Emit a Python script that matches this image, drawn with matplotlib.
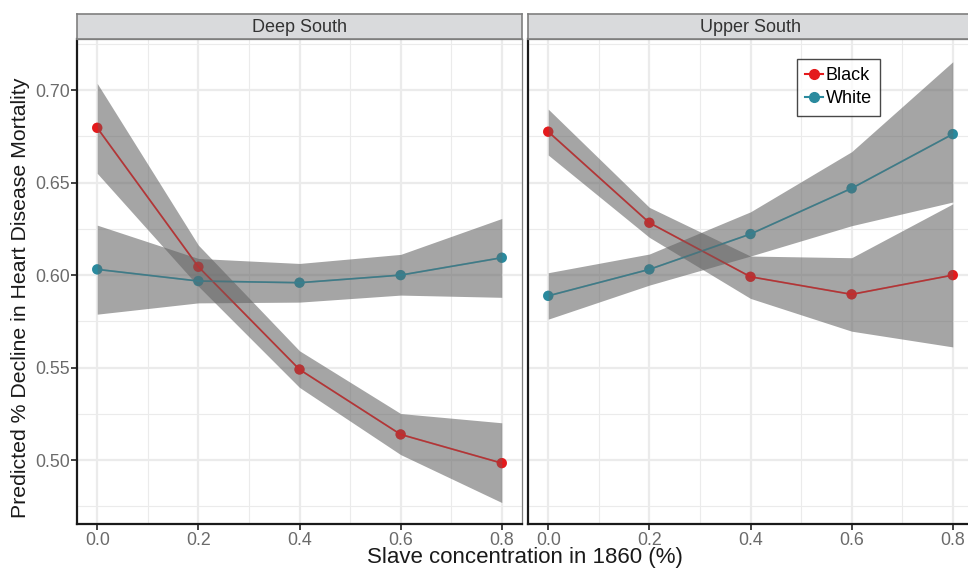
import matplotlib
matplotlib.use("Agg")
import matplotlib.pyplot as plt
from matplotlib.lines import Line2D

plt.rcParams['font.family'] = ['Liberation Sans', 'DejaVu Sans']

x = [0.0, 0.2, 0.4, 0.6, 0.8]
panels = ["Deep South", "Upper South"]

# Deep South
deep_black = [0.6796, 0.6045, 0.549, 0.5139, 0.4984]
deep_black_lo = [0.655, 0.594, 0.5393, 0.503, 0.4771]
deep_black_hi = [0.7036, 0.6162, 0.5591, 0.5252, 0.5202]
deep_white = [0.6031, 0.5968, 0.5959, 0.600, 0.6094]
deep_white_lo = [0.5789, 0.585, 0.5854, 0.5892, 0.588]
deep_white_hi = [0.627, 0.609, 0.6063, 0.6112, 0.6306]

# Upper South
upper_black = [0.6775, 0.6283, 0.5991, 0.5896, 0.600]
upper_black_lo = [0.6649, 0.6204, 0.5874, 0.5697, 0.5612]
upper_black_hi = [0.6897, 0.6366, 0.6103, 0.6094, 0.6385]
upper_white = [0.5888, 0.6031, 0.6222, 0.6469, 0.6762]
upper_white_lo = [0.5762, 0.5946, 0.6103, 0.6267, 0.6395]
upper_white_hi = [0.6013, 0.6114, 0.6342, 0.6667, 0.7153]

series_names = ["Black", "White"]
colors = {"Black": "#E41A1C", "White": "#2A8A9E"}

data = {
    "Deep South": {
        "Black": (deep_black, deep_black_lo, deep_black_hi),
        "White": (deep_white, deep_white_lo, deep_white_hi),
    },
    "Upper South": {
        "Black": (upper_black, upper_black_lo, upper_black_hi),
        "White": (upper_white, upper_white_lo, upper_white_hi),
    },
}

yticks = [0.50, 0.55, 0.60, 0.65, 0.70]
xticks = [0.0, 0.2, 0.4, 0.6, 0.8]

W, H = 968, 570
fig = plt.figure(figsize=(W / 100, H / 100), dpi=100)

panel_left = [77, 528]
panel_w = 445
panel_top = 39
panel_bot = 524
strip_top = 14

grid_col = "#ebebeb"
tick_col = "#6b6b6b"

for i, name in enumerate(panels):
    l = panel_left[i] / W
    b = 1 - panel_bot / H
    w = panel_w / W
    h = (panel_bot - panel_top) / H
    ax = fig.add_axes([l, b, w, h])
    ax.set_xlim(-0.04, 0.84)
    ax.set_ylim(0.4655, 0.7276)
    ax.set_xticks(xticks)
    ax.set_xticks([0.1, 0.3, 0.5, 0.7], minor=True)
    ax.set_yticks(yticks)
    ax.set_yticks([0.475, 0.525, 0.575, 0.625, 0.675, 0.725], minor=True)
    ax.grid(which="major", color=grid_col, linewidth=1.6, zorder=0)
    ax.grid(which="minor", color=grid_col, linewidth=0.8, zorder=0)
    ax.set_axisbelow(True)
    ax.set_xticklabels(["%.1f" % v for v in xticks], color=tick_col, fontsize=12.8)
    if i == 0:
        ax.set_yticklabels(["%.2f" % v for v in yticks], color=tick_col, fontsize=12.8)
        ax.tick_params(axis="y", which="major", length=4, width=1.2, color="#222222", pad=1)
    else:
        ax.set_yticklabels([])
        ax.tick_params(axis="y", which="major", length=0)
    ax.tick_params(axis="x", which="major", length=4, width=1.2, color="#222222", pad=2)
    ax.tick_params(which="minor", length=0)
    for side in ["left", "bottom"]:
        ax.spines[side].set_color("#1a1a1a")
        ax.spines[side].set_linewidth(1.6)
    for side in ["right", "top"]:
        ax.spines[side].set_color("#7f7f7f")
        ax.spines[side].set_linewidth(0.9)

    for s in series_names:
        y, lo, hi = data[name][s]
        ax.plot(x, y, color=colors[s], linewidth=1.2, zorder=2)
        ax.scatter(x, y, color=colors[s], s=55, zorder=3, edgecolors="none")
        ax.fill_between(x, lo, hi, color="#646464", alpha=0.58, linewidth=0, zorder=4)
        # faint overlay so lines keep some saturation under the ribbon
        ax.plot(x, y, color=colors[s], linewidth=1.2, alpha=0.35, zorder=5)
        ax.scatter(x, y, color=colors[s], s=55, alpha=0.35, zorder=5, edgecolors="none")

    # strip
    sax = fig.add_axes([l, 1 - panel_top / H, w, (panel_top - strip_top) / H])
    sax.set_facecolor("#d9dadc")
    sax.set_xticks([])
    sax.set_yticks([])
    for sp in sax.spines.values():
        sp.set_color("#7f7f7f")
        sp.set_linewidth(1.2)
    sax.text(0.5, 0.48, name, ha="center", va="center", fontsize=13, color="#333333",
             transform=sax.transAxes)

    if i == 1:
        handles = [Line2D([0], [0], color=colors[s], marker="o", markersize=7, linewidth=1.5)
                   for s in series_names]
        leg = ax.legend(handles, series_names, loc="upper left",
                        bbox_to_anchor=((797 - 528) / panel_w, (524 - 59) / 485),
                        fontsize=13, frameon=True, fancybox=False, handlelength=1.0,
                        handletextpad=0.15, borderpad=0.45, labelspacing=0.35,
                        borderaxespad=0)
        leg.get_frame().set_edgecolor("#1a1a1a")
        leg.get_frame().set_linewidth(1.0)
        leg.set_zorder(10)

fig.text(525 / W, 1 - 558 / H, "Slave concentration in 1860 (%)", ha="center", va="center",
         fontsize=16, color="#1a1a1a")
fig.text(21 / W, 1 - 298 / H, "Predicted % Decline in Heart Disease Mortality", ha="center",
         va="center", rotation=90, fontsize=15.3, color="#1a1a1a")

fig.savefig("out.png", dpi=100)
